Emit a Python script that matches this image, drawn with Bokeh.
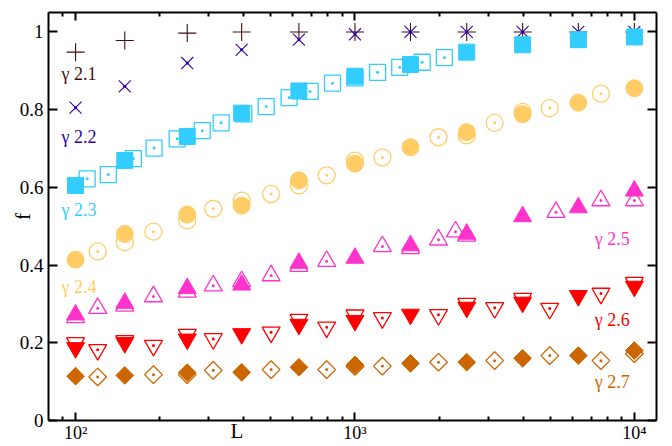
from bokeh.plotting import figure
from bokeh.models import (LogAxis, LinearAxis, FixedTicker, CustomJSTickFormatter,
                          Label, Range1d)
from bokeh.embed import file_html
from bokeh.resources import INLINE

FONT = "Liberation Serif"

# ---------------- data ----------------
x_ticks = [100, 1000, 10000]
x_tick_labels = ["10²", "10³", "10⁴"]
x_minor_ticks = [90, 200, 300, 400, 500, 600, 700, 800, 900,
                 2000, 3000, 4000, 5000, 6000, 7000, 8000, 9000]
y_ticks = [0, 0.2, 0.4, 0.6, 0.8, 1.0]
y_tick_labels = ["0", "0.2", "0.4", "0.6", "0.8", "1"]

L_filled = [100, 150, 251, 393, 630, 1000, 1580, 2512, 3981, 6300, 10000]
L_open = [120, 190, 311, 501, 792, 1253, 1990, 3162, 4977, 7590]
L_open_sq = [110, 131, 161, 191, 231, 284, 332, 400, 481, 581, 691, 831,
             1000, 1205, 1446, 1740, 2089]

f21 = [0.948, 0.978, 0.997, 1.0, 1.0, 1.0, 1.0, 1.0, 1.0, 1.0, 1.0]
f22 = [0.805, 0.860, 0.920, 0.954, 0.980, 0.994, 1.0, 1.0, 1.0, 1.0, 1.0]

f23_filled = [0.605, 0.669, 0.731, 0.791, 0.848, 0.886, 0.916, 0.948, 0.967, 0.980, 0.987]
f23_open = [0.622, 0.633, 0.674, 0.701, 0.725, 0.746, 0.766, 0.789, 0.808, 0.831,
            0.847, 0.868, 0.882, 0.896, 0.909, 0.922, 0.934]

f24_filled = [0.414, 0.480, 0.530, 0.553, 0.618, 0.661, 0.703, 0.742, 0.788, 0.818, 0.855]
f24_open = [0.435, 0.486, 0.545, 0.583, 0.631, 0.677, 0.729, 0.766, 0.804, 0.841]
L24_behind = [150, 251, 393, 630, 1000, 2512, 3981]
f24_behind = [0.459, 0.515, 0.566, 0.605, 0.669, 0.734, 0.794]

f25_filled = [0.272, 0.302, 0.340, 0.349, 0.405, 0.418, 0.450, 0.480, 0.525, 0.548, 0.591]
L25_open = [120, 190, 311, 501, 792, 1253, 1990, 2290, 5240, 7590, 10000]
f25_open = [0.289, 0.319, 0.347, 0.373, 0.410, 0.448, 0.465, 0.486, 0.536, 0.566, 0.566]
L25_behind = [100, 150, 251, 393, 630, 1580, 2512]
f25_behind = [0.265, 0.295, 0.331, 0.358, 0.397, 0.443, 0.475]

f26_filled = [0.187, 0.200, 0.209, 0.223, 0.247, 0.257, 0.273, 0.291, 0.304, 0.321, 0.345]
f26_open = [0.182, 0.193, 0.210, 0.227, 0.240, 0.264, 0.272, 0.290, 0.288, 0.327]
L26_behind = [100, 150, 251, 630, 1000, 2512, 3981, 10000]
f26_behind = [0.200, 0.205, 0.221, 0.260, 0.271, 0.301, 0.314, 0.355]

f27_filled = [0.114, 0.116, 0.123, 0.124, 0.137, 0.143, 0.147, 0.150, 0.160, 0.167, 0.180]
f27_open = [0.112, 0.118, 0.129, 0.131, 0.131, 0.140, 0.150, 0.154, 0.167, 0.154]
L27_behind = [251, 1000, 10000]
f27_behind = [0.118, 0.139, 0.172]

gamma_labels = ["γ 2.1", "γ 2.2", "γ 2.3", "γ 2.4", "γ 2.5", "γ 2.6", "γ 2.7"]
colors = ["#3f0f0f", "#3300a0", "#33ccff", "#ffcc66", "#ff33cc", "#ff0000", "#cc6600"]
x_label = "L"
y_label = "f"

# ---------------- figure ----------------
p = figure(width=672, height=446, x_axis_type="log",
           x_range=Range1d(80, 12000), y_range=Range1d(0, 1.05),
           output_backend="svg", toolbar_location=None,
           min_border_left=48, min_border_right=16,
           min_border_top=12, min_border_bottom=26)
p.xgrid.visible = False
p.ygrid.visible = False
p.outline_line_color = None
p.background_fill_color = "white"
p.border_fill_color = "white"

x_fmt = CustomJSTickFormatter(args=dict(tvals=x_ticks, tlabels=x_tick_labels), code="""
const i = tvals.findIndex(t => Math.abs(Math.log10(t) - Math.log10(tick)) < 1e-6);
return i >= 0 ? tlabels[i] : "";
""")
y_fmt = CustomJSTickFormatter(args=dict(tvals=y_ticks, tlabels=y_tick_labels), code="""
const i = tvals.findIndex(t => Math.abs(t - tick) < 1e-6);
return i >= 0 ? tlabels[i] : "";
""")
blank_fmt = CustomJSTickFormatter(code='return "";')


def style(ax, ticker, fmt, show, major_in, minor_in, fsize="18px"):
    ax.ticker = ticker
    ax.formatter = fmt
    ax.axis_line_color = "black"
    ax.axis_line_width = 2
    ax.major_tick_line_color = "black"
    ax.major_tick_line_width = 2
    ax.major_tick_in = major_in
    ax.major_tick_out = 0
    if minor_in:
        ax.minor_tick_line_color = "black"
        ax.minor_tick_line_width = 2
        ax.minor_tick_in = minor_in
        ax.minor_tick_out = 0
    else:
        ax.minor_tick_line_color = None
    ax.major_label_text_font = FONT
    ax.major_label_text_color = "black"
    if show:
        ax.major_label_text_font_size = fsize
        ax.major_label_standoff = 5
    else:
        ax.major_label_text_font_size = "0px"
        ax.major_label_standoff = 0


xt = FixedTicker(ticks=x_ticks, minor_ticks=x_minor_ticks)
yt = FixedTicker(ticks=y_ticks, minor_ticks=[])

xa = p.xaxis[0]
ya = p.yaxis[0]
style(xa, xt, x_fmt, True, 8, 4, "18px")
style(ya, yt, y_fmt, True, 9, 0, "19px")
xa.major_label_standoff = 2

# axis titles (offset to match the reference placement)
xa.axis_label = x_label + "\u00a0" * 44
xa.axis_label_text_font = FONT
xa.axis_label_text_font_style = "normal"
xa.axis_label_text_font_size = "21px"
xa.axis_label_text_color = "black"
xa.axis_label_standoff = -27

ya.axis_label = y_label
ya.axis_label_text_font = FONT
ya.axis_label_text_font_style = "normal"
ya.axis_label_text_font_size = "21px"
ya.axis_label_text_color = "black"
ya.axis_label_standoff = -18

top = LogAxis()
style(top, FixedTicker(ticks=x_ticks, minor_ticks=x_minor_ticks), blank_fmt, False, 8, 4)
p.add_layout(top, "above")
right = LinearAxis()
style(right, FixedTicker(ticks=y_ticks, minor_ticks=[]), blank_fmt, False, 9, 0)
p.add_layout(right, "right")


def open_dot(L, f, marker, color, size, angle=0.0, dot=True):
    p.scatter(L, f, marker=marker, size=size, angle=angle, fill_color=None,
              line_color=color, line_width=1.3)
    if dot:
        p.scatter(L, f, marker="circle", size=3, fill_color=color, line_color=None)


def filled(L, f, marker, color, size, angle=0.0):
    p.scatter(L, f, marker=marker, size=size, angle=angle, fill_color=color,
              line_color=color, line_width=1)


# gamma 2.1 : plus
p.scatter(L_filled, f21, marker="cross", size=18, line_color=colors[0], line_width=1.1)
# gamma 2.2 : x with dot
p.scatter(L_filled, f22, marker="x", size=17, line_color=colors[1], line_width=1.1)
p.scatter(L_filled, f22, marker="circle", size=3, fill_color=colors[1], line_color=None)

# gamma 2.3 : squares
open_dot(L_open_sq, f23_open, "square", colors[2], 16)
filled(L_filled, f23_filled, "square", colors[2], 16)

# gamma 2.4 : circles
open_dot(L_open, f24_open, "circle", colors[3], 17)
open_dot(L24_behind, f24_behind, "circle", colors[3], 17, dot=False)
filled(L_filled, f24_filled, "circle", colors[3], 17)

# gamma 2.5 : triangles
open_dot(L25_open, f25_open, "triangle", colors[4], 18)
open_dot(L25_behind, f25_behind, "triangle", colors[4], 18, dot=False)
filled(L_filled, f25_filled, "triangle", colors[4], 18)

# gamma 2.6 : inverted triangles
open_dot(L_open, f26_open, "inverted_triangle", colors[5], 18)
open_dot(L26_behind, f26_behind, "inverted_triangle", colors[5], 18, dot=False)
filled(L_filled, f26_filled, "inverted_triangle", colors[5], 18)

# gamma 2.7 : diamonds (rotated squares)
open_dot(L_open, f27_open, "square", colors[6], 12.5, angle=0.785398)
open_dot(L27_behind, f27_behind, "square", colors[6], 12.5, angle=0.785398, dot=False)
filled(L_filled, f27_filled, "square", colors[6], 12.5, angle=0.785398)

# ---------------- series labels ----------------
label_pos = [(89, 0.893), (89, 0.729), (89, 0.541), (89, 0.344),
             (7211, 0.468), (7211, 0.258), (7211, 0.0996)]
for (lx, ly), txt, c in zip(label_pos, gamma_labels, colors):
    p.add_layout(Label(x=lx, y=ly, text=txt, text_color=c, text_font=FONT,
                       text_font_size="18px", text_align="left",
                       text_baseline="middle"))

open("out.html", "w").write(file_html(p, INLINE))
